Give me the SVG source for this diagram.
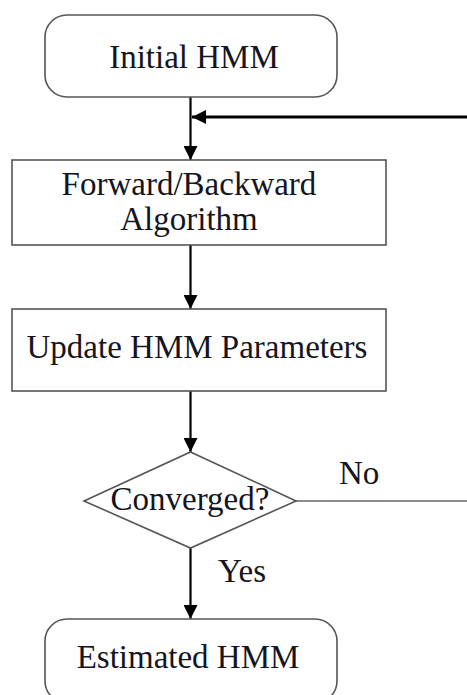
<svg xmlns="http://www.w3.org/2000/svg" width="467" height="695" viewBox="0 0 467 695">
  <style>
    .box { fill: #ffffff; stroke: #555555; stroke-width: 1.6; }
    .label { font-family: "Liberation Serif", "Times New Roman", serif; font-size: 33px; fill: #141422; text-anchor: middle; }
    .tag { font-family: "Liberation Serif", "Times New Roman", serif; font-size: 33px; fill: #141422; }
    .flow { stroke: #000000; stroke-width: 2.2; fill: none; }
    .loop { stroke: #000000; stroke-width: 3; fill: none; }
    .thin { stroke: #666666; stroke-width: 1.5; fill: none; }
  </style>
  <defs>
    <marker id="arrowDown" viewBox="0 0 10 10" refX="10" refY="5" markerWidth="23" markerHeight="14" markerUnits="userSpaceOnUse" orient="auto">
      <path d="M0,0 L10,5 L0,10 Z" fill="#000000"/>
    </marker>
  </defs>

  <rect width="467" height="695" fill="#ffffff"/>

  <!-- connectors -->
  <g id="connectors">
    <line class="flow" x1="190.5" y1="97" x2="190.5" y2="160" marker-end="url(#arrowDown)"/>
    <line class="loop" x1="467" y1="117" x2="192" y2="117" marker-end="url(#arrowDown)"/>
    <line class="flow" x1="190.5" y1="245" x2="190.5" y2="309" marker-end="url(#arrowDown)"/>
    <line class="flow" x1="190.5" y1="391" x2="190.5" y2="452" marker-end="url(#arrowDown)"/>
    <line class="thin" x1="296" y1="501" x2="467" y2="501"/>
    <line class="flow" x1="190.5" y1="548" x2="190.5" y2="619" marker-end="url(#arrowDown)"/>
    <text class="tag" x="339" y="484">No</text>
    <text class="tag" x="218" y="582">Yes</text>
  </g>

  <g id="initial-hmm">
    <rect class="box" x="45" y="15" width="292" height="82" rx="22" ry="22"/>
    <text class="label" x="194" y="68">Initial HMM</text>
  </g>

  <g id="forward-backward">
    <rect class="box" x="12" y="160" width="374" height="85"/>
    <text class="label" x="189" y="195">Forward/Backward</text>
    <text class="label" x="189" y="230">Algorithm</text>
  </g>

  <g id="update-params">
    <rect class="box" x="12" y="309" width="374" height="82"/>
    <text class="label" x="197" y="358">Update HMM Parameters</text>
  </g>

  <g id="converged">
    <polygon class="box" points="190.5,452 296,501 190.5,548 84,501"/>
    <text class="label" x="190" y="510">Converged?</text>
  </g>

  <g id="estimated-hmm">
    <rect class="box" x="45" y="619" width="292" height="84" rx="22" ry="22"/>
    <text class="label" x="188" y="668">Estimated HMM</text>
  </g>
</svg>
